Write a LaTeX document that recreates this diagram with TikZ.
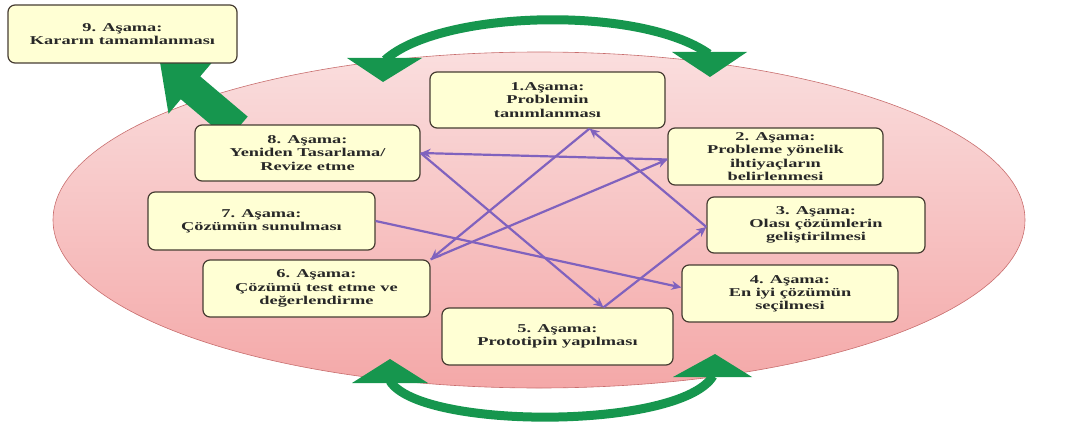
\documentclass[tikz,border=0pt]{standalone}
\usepackage{fontspec}
\usetikzlibrary{arrows.meta,calc}
\newfontfamily\boxfont[FakeStretch=1.53]{Liberation Serif}
\definecolor{ellfill}{RGB}{250,222,222}
\definecolor{ellfillb}{RGB}{244,168,168}
\definecolor{elldraw}{RGB}{200,110,110}
\definecolor{boxfill}{RGB}{255,255,212}
\definecolor{boxdraw}{RGB}{70,60,50}
\definecolor{linkcol}{RGB}{128,98,190}
\definecolor{grn}{RGB}{22,150,78}
\definecolor{txt}{RGB}{40,40,40}
\tikzset{
  stagebox/.style={draw=boxdraw, line width=1.2pt, rounded corners=7pt, fill=boxfill,
    align=center, inner sep=0pt, text=txt,
    font=\boxfont\bfseries\fontsize{12}{13.2}\selectfont},
  link/.style={draw=linkcol, line width=2.2pt, -{Stealth[length=10pt,width=9pt]}},
  greenarc/.style={draw=grn, line width=9pt},
  greenhead/.style={fill=grn, draw=none}
}
\begin{document}
\begin{tikzpicture}[x=1pt,y=-1pt]
\useasboundingbox (0,0) rectangle (1076,428);
% ellipse
\shade[top color=ellfill, bottom color=ellfillb] (539,220) ellipse [x radius=486, y radius=168];
\draw[elldraw, line width=0.6pt] (539,220) ellipse [x radius=486, y radius=168];
% top arc
\draw[greenarc] (385,60) .. controls (440,10) and (640,5) .. (709,54);
\fill[greenhead] (347,58) -- (422,58) -- (383,82) -- cycle;
\fill[greenhead] (672,52) -- (747,52) -- (710,77) -- cycle;
% bottom arc
\draw[greenarc] (390,381) .. controls (420,430) and (680,430) .. (713,376);
\fill[greenhead] (352,383) -- (428,383) -- (390,359) -- cycle;
\fill[greenhead] (673,377) -- (752,377) -- (715,354) -- cycle;
% big arrow 8 -> 9
\fill[greenhead] (247.7,116.6) -- (200.2,76.4) -- (212.5,61.9) -- (160,62) -- (168.5,113.7) -- (180.8,99.2) -- (228.3,139.4) -- cycle;
% boxes
\node[stagebox, minimum width=229pt, minimum height=58pt] (b9) at (122.5,34) {9. Aşama:\\Kararın tamamlanması};
\node[stagebox, minimum width=225pt, minimum height=56pt] (b8) at (307.5,153) {8. Aşama:\\Yeniden Tasarlama/\\Revize etme};
\node[stagebox, minimum width=227pt, minimum height=58pt] (b7) at (261.5,221) {7. Aşama:\\Çözümün sunulması};
\node[stagebox, minimum width=227pt, minimum height=57pt] (b6) at (316.5,288.5) {6. Aşama:\\Çözümü test etme ve\\değerlendirme};
\node[stagebox, minimum width=231pt, minimum height=57pt] (b5) at (557.5,336.5) {5. Aşama:\\Prototipin yapılması};
\node[stagebox, minimum width=216pt, minimum height=57pt] (b4) at (790,293.5) {4. Aşama:\\En iyi çözümün\\seçilmesi};
\node[stagebox, minimum width=218pt, minimum height=56pt] (b3) at (816,225) {3. Aşama:\\Olası çözümlerin\\geliştirilmesi};
\node[stagebox, minimum width=215pt, minimum height=57pt] (b2) at (775.5,156.5) {2. Aşama:\\Probleme yönelik\\ihtiyaçların\\belirlenmesi};
\node[stagebox, minimum width=235pt, minimum height=56pt] (b1) at (547.5,100) {1.Aşama:\\Problemin\\tanımlanması};
% connection points
\coordinate (p1) at ($(b1.south)+(42,0)$);
\coordinate (p2) at ($(b2.west)+(0,3)$);
\coordinate (p5) at ($(b5.north)+(46,0)$);
\coordinate (p3) at ($(b3.west)+(0,2)$);
\coordinate (p4) at ($(b4.west)+(0,-6)$);
% links
\draw[link] (p1) -- (b6.north east);
\draw[link] (b6.north east) -- (p2);
\draw[link] (p2) -- (b8.east);
\draw[link] (b8.east) -- (p5);
\draw[link] (p5) -- (p3);
\draw[link] (p3) -- (p1);
\draw[link] (b7.east) -- (p4);
\end{tikzpicture}
\end{document}
